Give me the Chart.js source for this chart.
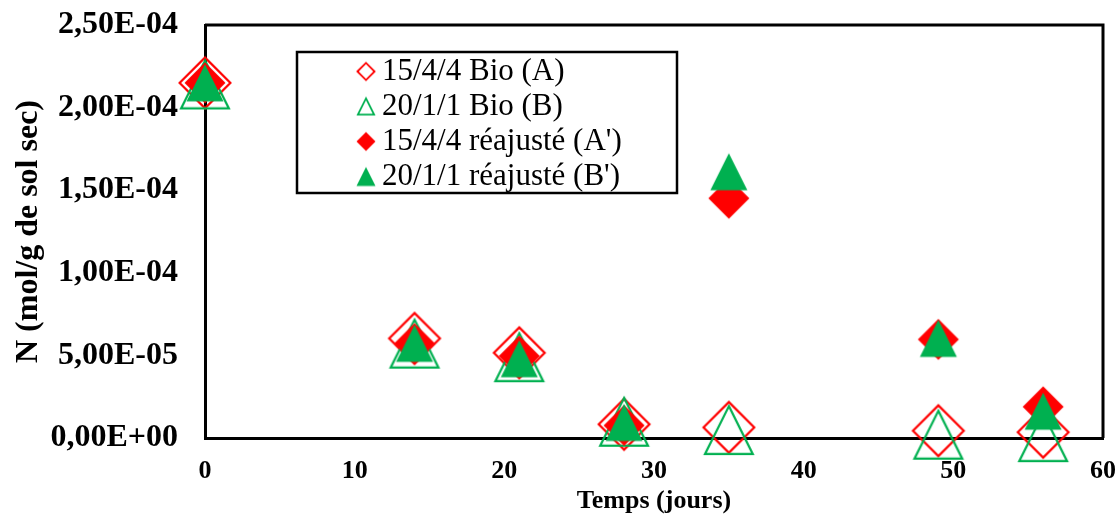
<!DOCTYPE html>
<html>
<head>
<meta charset="utf-8">
<script src="https://cdn.jsdelivr.net/npm/chart.js@4.4.0/dist/chart.umd.min.js"></script>
<style>
   html, body { margin: 0; padding: 0; background: #fff; }
   #chart { display: block; }
</style>
</head>
<body>
<canvas id="chart" width="1120" height="518"></canvas>
<script>
// sampling days and N content (mol/g dry soil) per treatment
const days = [0, 14, 21, 28, 35, 49, 56];
const bioA = [2.15e-4, 6.03e-5, 5.16e-5, 8.3e-6, 6.4e-6, 4.4e-6, 3.5e-6];
const bioB = [2.14e-4, 5.71e-5, 4.89e-5, 9.8e-6, 4.8e-6, 2.0e-6, 5e-7];
const adjA = [2.15e-4, 5.72e-5, 4.96e-5, 7.6e-6, 1.451e-4, 5.97e-5, 1.89e-5];
const adjB = [2.15e-4, 5.73e-5, 4.80e-5, 9.4e-6, 1.612e-4, 6.03e-5, 1.62e-5];

const xTickLabels = ['0', '10', '20', '30', '40', '50', '60'];
const yTickLabels = ['0,00E+00', '5,00E-05', '1,00E-04', '1,50E-04', '2,00E-04', '2,50E-04'];

const RED = '#ff0000';
const GREEN = '#00b050';
const SERIF = '"Liberation Serif", "Times New Roman", serif';

Chart.defaults.font.family = SERIF;
Chart.defaults.color = '#000';

// excel-like markers, centred on their bounding box
function marker(shape, size, color, filled, lw = 2.2) {
   const dim = 2 * Math.ceil(size / 2 + 4);
   const c = document.createElement('canvas');
   c.width = c.height = dim;
   const ctx = c.getContext('2d');
   const m = dim / 2;
   const h = filled ? size / 2 : size / 2 - lw / 2;
   ctx.beginPath();
   if (shape === 'diamond') {
      ctx.moveTo(m - h, m);
      ctx.lineTo(m, m - h);
      ctx.lineTo(m + h, m);
      ctx.lineTo(m, m + h);
   } else {
      ctx.moveTo(m, m - h);
      ctx.lineTo(m + h, m + h);
      ctx.lineTo(m - h, m + h);
   }
   ctx.closePath();
   if (filled) {
      ctx.fillStyle = color;
      ctx.fill();
   } else {
      ctx.strokeStyle = color;
      ctx.lineWidth = lw;
      ctx.stroke();
   }
   return c;
}

function toPoints(values) {
   return days.map((d, i) => ({ x: d, y: values[i] }));
}

function makeSet(label, values, style, legendStyle, order) {
   return {
      label: label,
      data: toPoints(values),
      pointStyle: style,
      legendMark: legendStyle,
      pointRadius: 26,
      pointHoverRadius: 26,
      showLine: false,
      clip: false,
      order: order
   };
}

const datasets = [
   makeSet('15/4/4 Bio (A)', bioA, marker('diamond', 53, RED, false), marker('diamond', 19, RED, false, 1.8), 4),
   makeSet('20/1/1 Bio (B)', bioB, marker('triangle', 50, GREEN, false), marker('triangle', 18, GREEN, false, 1.8), 3),
   makeSet("15/4/4 réajusté (A')", adjA, marker('diamond', 41, RED, true), marker('diamond', 19, RED, true), 2),
   makeSet("20/1/1 réajusté (B')", adjB, marker('triangle', 37, GREEN, true), marker('triangle', 19, GREEN, true), 1)
];

// top and right sides of the plot frame
const frame = {
   id: 'frame',
   beforeDatasetsDraw(chart) {
      const { ctx, chartArea: a } = chart;
      ctx.save();
      ctx.strokeStyle = '#000';
      ctx.lineWidth = 3;
      ctx.beginPath();
      ctx.moveTo(a.left, a.top);
      ctx.lineTo(a.right, a.top);
      ctx.lineTo(a.right, a.bottom);
      ctx.stroke();
      ctx.restore();
   }
};

// boxed legend sitting inside the plot
const boxLegend = {
   id: 'boxLegend',
   afterDatasetsDraw(chart) {
      const { ctx, chartArea } = chart;
      const left = chartArea.left + 92;
      const top = chartArea.top + 27;
      const w = 380, h = 141;
      ctx.save();
      ctx.fillStyle = '#fff';
      ctx.fillRect(left, top, w, h);
      ctx.lineWidth = 2.5;
      ctx.strokeStyle = '#000';
      ctx.strokeRect(left, top, w, h);
      ctx.font = '31px ' + SERIF;
      ctx.fillStyle = '#000';
      ctx.textBaseline = 'middle';
      chart.data.datasets.forEach((ds, i) => {
         const y = top + 19.5 + i * 35;
         const mk = ds.legendMark;
         ctx.drawImage(mk, left + 69 - mk.width / 2, y - mk.height / 2);
         ctx.fillText(ds.label, left + 85, y);
      });
      ctx.restore();
   }
};

new Chart(document.getElementById('chart'), {
   type: 'scatter',
   data: { datasets: datasets },
   options: {
      responsive: false,
      animation: false,
      devicePixelRatio: 1,
      layout: { autoPadding: false, padding: { top: 25, right: 17, left: 0, bottom: 0 } },
      plugins: {
         legend: { display: false },
         tooltip: { enabled: false }
      },
      scales: {
         x: {
            type: 'linear',
            min: 0,
            max: 60,
            afterFit: (s) => {
               s.height = 80;
               s.paddingLeft = 0;
               s.paddingRight = 0;
            },
            grid: { display: false, drawTicks: false },
            border: { display: true, color: '#000', width: 3 },
            ticks: {
               stepSize: 10,
               padding: 0,
               font: { size: 26, weight: 'bold', lineHeight: 2.54 },
               callback: (v) => xTickLabels[Math.round(v / 10)]
            },
            title: {
               display: true,
               text: 'Temps (jours)',
               font: { size: 26, weight: 'bold' },
               padding: { top: 0, bottom: 1 }
            }
         },
         y: {
            min: 0,
            max: 2.5e-4,
            afterFit: (s) => {
               s.width = 205;
               s.paddingTop = 0;
               s.paddingBottom = 0;
            },
            grid: { display: false },
            border: { display: true, color: '#000', width: 3 },
            ticks: {
               stepSize: 5e-5,
               padding: 19,
               font: { size: 32, weight: 'bold' },
               callback: (v) => yTickLabels[Math.round(v / 5e-5)]
            },
            title: {
               display: true,
               text: 'N (mol/g de sol sec)',
               font: { size: 32, weight: 'bold' },
               padding: { top: 10, bottom: 0 }
            }
         }
      }
   },
   plugins: [frame, boxLegend]
});
</script>
</body>
</html>
